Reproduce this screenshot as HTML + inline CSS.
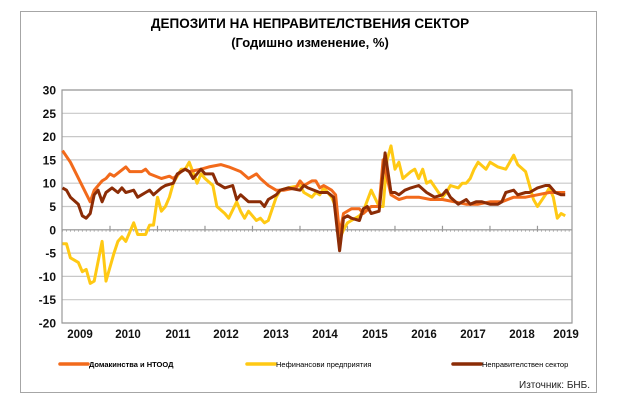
<!DOCTYPE html>
<html><head><meta charset="utf-8"><style>
body{margin:0;background:#fff;width:630px;height:409px;overflow:hidden;font-family:"Liberation Sans",sans-serif}
</style></head><body>
<svg width="630" height="409" xmlns="http://www.w3.org/2000/svg">
<rect x="20.5" y="11.5" width="576" height="381" fill="#fff" stroke="#a6a6a6"/>
<text x="310" y="28" text-anchor="middle" font-size="13.5" font-weight="bold" fill="#000">ДЕПОЗИТИ НА НЕПРАВИТЕЛСТВЕНИЯ СЕКТОР</text>
<text x="310" y="47" text-anchor="middle" font-size="13" font-weight="bold" fill="#000">(Годишно изменение, %)</text>
<g id="grid"></g>
<g id="series"></g>
<g id="legend" font-size="7.5" font-weight="bold" fill="#000">
<line x1="60" y1="364" x2="88" y2="364" stroke="#f26a1b" stroke-width="3.5" stroke-linecap="round"/>
<text x="89" y="367">Домакинства и НТООД</text>
<line x1="247" y1="364" x2="275" y2="364" stroke="#ffc914" stroke-width="3.5" stroke-linecap="round"/>
<text x="276" y="367" font-weight="normal">Нефинансови предприятия</text>
<line x1="453" y1="364" x2="481" y2="364" stroke="#8b2c06" stroke-width="3.5" stroke-linecap="round"/>
<text x="482" y="367" font-weight="normal">Неправителствен сектор</text>
</g>
<text x="590" y="388" text-anchor="end" font-size="10" fill="#222">Източник: БНБ.</text>
</svg>
<script>
const yTicks=[30,25,20,15,10,5,0,-5,-10,-15,-20];
const yearLabels=["2009","2010","2011","2012","2013","2014","2015","2016","2017","2018","2019"];
const households=[[0,17],[2,14.5],[7,6],[8,8.5],[10,10.5],[11,11],[12,12],[13,11.5],[16,13.5],[17,12.5],[20,12.5],[21,13],[22,12],[25,11],[27,11.5],[28,11],[30,12.5],[31,13],[32,12.5],[35,13],[37,13.5],[40,14],[42,13.5],[45,12.5],[47,11],[49,12],[50,11],[52,9.5],[54,8.5],[56,8.5],[59,9],[60,10.5],[61,9.5],[63,10.5],[64,10.5],[65,9],[66,9.5],[68,8.5],[69,7.5],[70,-1],[71,3.5],[73,4.5],[75,4.5],[76,3.5],[78,5],[80,5],[81,15],[83,7.5],[85,6.5],[87,7],[90,7],[93,6.5],[96,6.5],[99,6],[102,5.5],[105,5.5],[108,6],[111,6],[114,7],[117,7],[120,7.5],[123,8],[127,8]];
const nonfinancial=[[0,-3],[1,-3],[2,-6],[4,-7],[5,-9],[6,-8.5],[7,-11.5],[8,-11],[10,-2.5],[11,-11],[13,-5],[14,-2.5],[15,-1.5],[16,-2.5],[18,1.5],[19,-1],[21,-1],[22,1],[23,1],[24,7],[25,4],[26,5],[27,7],[28,10],[30,13],[31,13],[32,14.5],[34,10],[35,12],[36,11],[38,9.5],[39,5],[41,3.5],[42,2.5],[44,6],[45,4],[46,2.5],[47,4],[49,2],[50,2.5],[51,1.5],[52,2],[54,7],[55,8.5],[57,9],[60,9.5],[61,8],[63,7],[64,8],[65,7.5],[66,9],[68,7],[69,5],[70,-2],[71,0],[72,1.5],[73,2],[75,3],[76,4],[78,8.5],[80,5],[81,5],[82,15],[83,18],[84,13],[85,14.5],[86,11],[88,12.5],[89,13],[90,11],[91,13],[92,10],[93,10.5],[95,8],[96,7],[97,8],[98,9.5],[100,9],[101,10],[102,10],[103,11],[104,13],[105,14.5],[107,13],[108,14.5],[110,13.5],[112,13],[114,16],[115,14],[117,12.5],[119,6.5],[120,5],[122,7.5],[123,9],[124,7],[125,2.5],[126,3.5],[127,3]];
const nongovernment=[[0,9],[1,8.5],[2,7],[4,5.5],[5,3],[6,2.5],[7,3.5],[8,7.5],[9,8.5],[10,6],[11,8],[12.5,9],[14,8],[15,9],[16,8],[18,8.5],[19,7],[20,7.5],[21,8],[22,8.5],[23,7.5],[25,9],[26,9.5],[28,10],[29,12],[31,13],[32,12.5],[33,11],[35,13],[36,12],[38,12],[39,10],[41,9],[43,9.5],[44,6.5],[45,7.5],[47,6],[49,6],[50,6],[51,5],[52,6.5],[54,7.5],[55,8.5],[57,9],[60,8.5],[61,9.5],[62,9],[65,8],[67,8],[68.5,7],[70,-4.5],[71,2.5],[72,3],[73,2.5],[75,2],[76,4.5],[77,5],[78,3.5],[80,4],[81.5,16.5],[83,8],[84,8],[85,7.5],[86.5,8.5],[88,9],[90,9.5],[92,8],[94,7],[96,7.5],[97,8.5],[98,7],[100,5.5],[101,6],[102,6.5],[103,5.5],[104.5,6],[106,6],[108,5.5],[110,5.5],[111,6],[112,8],[114,8.5],[115,7.5],[117,8],[118,8],[120,9],[122,9.5],[123,9.5],[124.5,8],[126,7.5],[127,7.5]];

const NS="http://www.w3.org/2000/svg";
const X0=62,X1=572,Y0=90,Y1=323;
const xS=m=>62.5+m*3.958;
const yS=v=>Y1-(v-(-20))*(Y1-Y0)/50;
function mk(tag,attrs,parent){const e=document.createElementNS(NS,tag);for(const k in attrs)e.setAttribute(k,attrs[k]);parent.appendChild(e);return e;}
const grid=document.getElementById('grid');
yTicks.forEach(v=>{
  const l=mk('line',{x1:X0,x2:X1,y1:yS(v),y2:yS(v),stroke:'#c8c8c8','stroke-width':1.2},grid);
  
  
  const t=mk('text',{x:56,y:yS(v)+4.5,'text-anchor':'end','font-size':12,'font-weight':'bold',fill:'#111'},grid);
  t.textContent=String(v);
  
  
});
const frame=mk('rect',{x:X0,y:Y0,width:X1-X0,height:Y1-Y0,fill:'none',stroke:'#999','stroke-width':1.2},grid);


const zero=mk('line',{x1:X0,x2:X1,y1:yS(0),y2:yS(0),stroke:'#999','stroke-width':1.2},grid);


for(let m=0;m<=128;m++){
  const x=xS(m);if(x>X1)break;
  const big=m%12===0&&m>0;
  const tk=mk('line',{x1:x,x2:x,y1:yS(0)-(big?4:0),y2:yS(0)+2,stroke:'#999','stroke-width':big?1.2:0.7},grid);
  
  
}
const labelX=[80,128,178,226,276,325,375,424,473,522,566];
yearLabels.forEach((s,i)=>{
  const t=mk('text',{x:labelX[i],y:338,'text-anchor':'middle','font-size':11.5,'font-weight':'bold',fill:'#111'},grid);
  t.textContent=s;
  
  
});
const ser=document.getElementById('series');
[[nonfinancial,'#ffc914','line-nonfinancial'],[households,'#f26a1b','line-households'],[nongovernment,'#8b2c06','line-nongovernment']].forEach(([d,c,n])=>{
  const p=mk('polyline',{points:d.map(q=>xS(q[0]).toFixed(1)+','+yS(q[1]).toFixed(1)).join(' '),fill:'none',stroke:c,'stroke-width':3,'stroke-linejoin':'round'},ser);
  
  
});
</script>
</body></html>
